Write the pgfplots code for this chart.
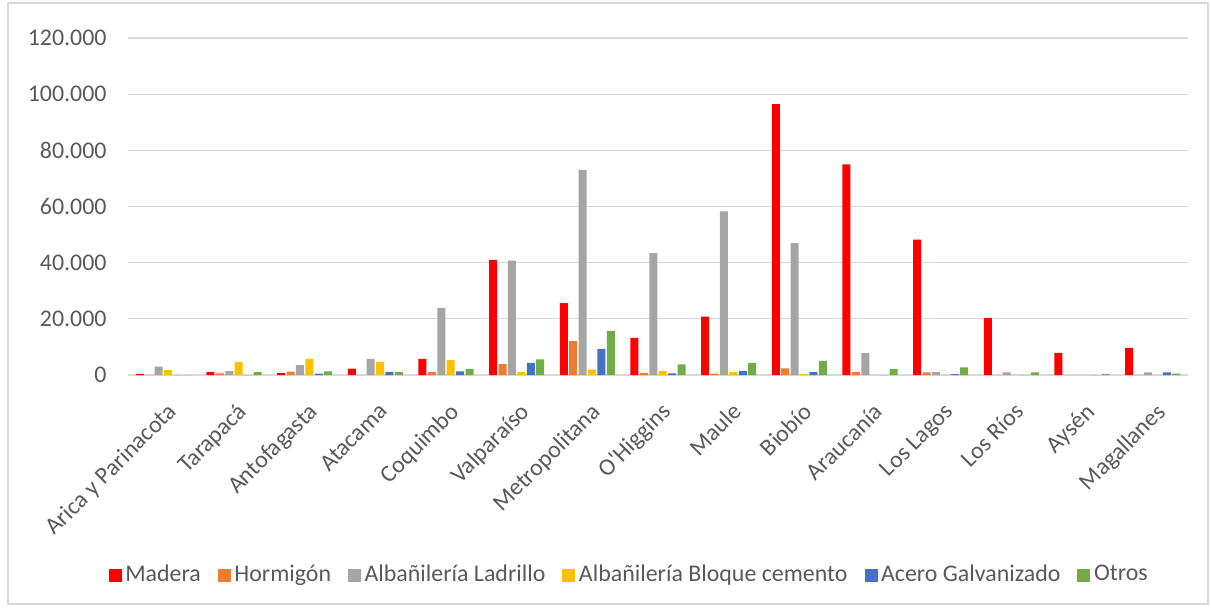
\documentclass[border=0pt]{standalone}
\usepackage{fontspec}
\setmainfont{Carlito}
\usepackage{pgfplots}
\usepackage{pgfplotstable}
\pgfplotsset{compat=1.18}

\definecolor{cMadera}{HTML}{FF0000}
\definecolor{cHormigon}{HTML}{ED7D31}
\definecolor{cLadrillo}{HTML}{A5A5A5}
\definecolor{cBloque}{HTML}{FFC000}
\definecolor{cAcero}{HTML}{4472C4}
\definecolor{cOtros}{HTML}{70AD47}
\definecolor{txt}{HTML}{595959}
\definecolor{gridc}{HTML}{D9D9D9}

% viviendas por region y material
\pgfplotstableread{
idx Madera Hormigon Ladrillo Bloque Acero Otros
0   400    0     3000   1700 0    0
1   1000   600   1400   4600 0    1000
2   700    1200  3500   5700 500  1300
3   2300   0     5700   4700 1100 1000
4   5700   1000  23900  5300 1300 2200
5   41000  3900  40700  1000 4300 5600
6   25600  12100 73000  1900 9300 15700
7   13200  800   43400  1500 600  3800
8   20800  500   58300  1000 1500 4300
9   96500  2400  47000  400  1000 5000
10  75000  1000  7800   0    0    2100
11  48200  900   1000   0    300  2700
12  20300  0     900    0    0    900
13  7900   0     0      0    0    300
14  9700   0     900    0    900  500
}\datos

\newcommand{\fnt}{\fontsize{13.6}{16}\selectfont}

\begin{document}
\begin{tikzpicture}
  \fnt
  \path[use as bounding box] (0,0) rectangle (24.22,12.14);
  \draw[gridc, line width=0.8pt] (0.16,0.06) rectangle (24.16,12.08);
  \begin{axis}[
      at={(2.56cm,4.64cm)}, anchor=south west,
      scale only axis,
      width=21.2cm, height=6.74cm,
      ybar=0.8pt, bar width=0.16cm,
      xmin=-0.5, xmax=14.5,
      ymin=0, ymax=120000,
      ytick={0,20000,...,120000},
      scaled y ticks=false,
      /pgf/number format/.cd, fixed, 1000 sep={.}, assume math mode=true,
      /pgfplots/.cd,
      xtick=data,
      xticklabels={Arica y Parinacota, Tarapacá, Antofagasta, Atacama, Coquimbo, Valparaíso, Metropolitana, O\textquotesingle Higgins, Maule, Biobío, Araucanía, Los Lagos, Los Ríos, Aysén, Magallanes},
      x tick label style={rotate=45, anchor=north east, text=txt, font=\fnt, xshift=-5pt, yshift=-7pt},
      y tick label style={text=txt, font=\fnt, xshift=-7.5pt},
      major tick length=0pt,
      ymajorgrids, xmajorgrids=false, grid style={draw=gridc, line width=0.7pt},
      axis x line*=bottom, axis y line*=left,
      x axis line style={draw=gridc, line width=0.7pt, -},
      y axis line style={draw=none},
      legend style={at={(0.4736,-0.5935)}, anchor=center, draw=none, fill=none, legend columns=-1,
        /tikz/every even column/.append style={column sep=0.27cm},
        font=\fnt, text=txt},
      legend cell align=left,
      legend image code/.code={\fill[#1] (0cm,-0.13cm) rectangle (0.26cm,0.13cm);},
    ]
    \addplot[fill=cMadera, draw=none] table[x=idx, y=Madera] {\datos};
    \addplot[fill=cHormigon, draw=none] table[x=idx, y=Hormigon] {\datos};
    \addplot[fill=cLadrillo, draw=none] table[x=idx, y=Ladrillo] {\datos};
    \addplot[fill=cBloque, draw=none] table[x=idx, y=Bloque] {\datos};
    \addplot[fill=cAcero, draw=none] table[x=idx, y=Acero] {\datos};
    \addplot[fill=cOtros, draw=none] table[x=idx, y=Otros] {\datos};
    \legend{Madera, Hormigón, Albañilería Ladrillo, Albañilería Bloque cemento, Acero Galvanizado, Otros}
  \end{axis}
\end{tikzpicture}
\end{document}
